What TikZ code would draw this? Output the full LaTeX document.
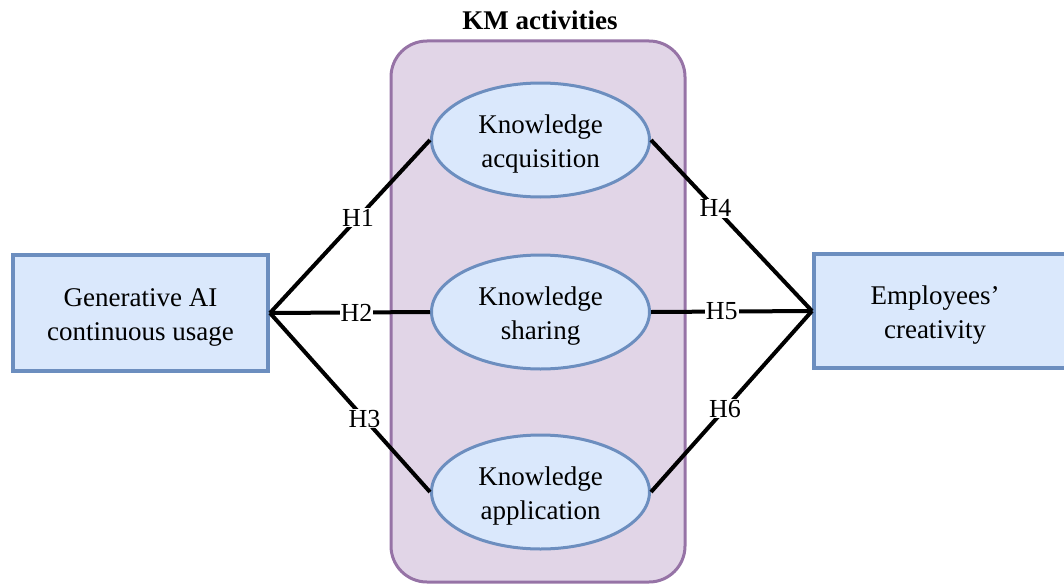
\documentclass[tikz,border=0pt]{standalone}
\usepackage{fontspec}
\setmainfont{Liberation Serif}
\usetikzlibrary{shapes.geometric}
\definecolor{bluefill}{HTML}{DAE8FC}
\definecolor{blueline}{HTML}{6C8EBF}
\definecolor{purplefill}{HTML}{E1D5E7}
\definecolor{purpleline}{HTML}{9673A6}
\newcommand{\lowtxt}{\rule{0pt}{27pt}}
\tikzset{
  varbox/.style={draw=blueline, fill=bluefill, line width=4pt, rectangle, align=center,
    font=\fontsize{27}{34}\selectfont, inner sep=0pt},
  kmell/.style={draw=blueline, fill=bluefill, line width=3pt, ellipse, align=center,
    minimum width=218pt, minimum height=114pt, inner sep=0pt,
    font=\fontsize{27}{34}\selectfont},
  link/.style={line width=4pt, black},
  hlab/.style={fill=white, inner sep=1pt, font=\fontsize{26}{30}\selectfont},
  kmgroup/.style={draw=purpleline, fill=purplefill, line width=3pt, rounded corners=36pt}
}
\begin{document}
\begin{tikzpicture}[x=1pt,y=-1pt]
\useasboundingbox (0,0) rectangle (1064,586);
\begin{scope}
\clip (0,0) rectangle (1064,586);
% group
\draw[kmgroup] (391,41) rectangle (685,582);
\node[font=\bfseries\fontsize{27}{30}\selectfont] (title) at (540,20) {KM activities};
% ellipses
\node[kmell] (acq) at (540.5,140) {\lowtxt Knowledge\\acquisition};
\node[kmell] (sha) at (540.5,312) {\lowtxt Knowledge\\sharing};
\node[kmell] (app) at (540.5,492) {\lowtxt Knowledge\\application};
% boxes
\node[varbox, minimum width=255pt, minimum height=116pt] (gen) at (140.5,313) {\lowtxt Generative AI\\continuous usage};
\node[varbox, minimum width=256pt, minimum height=114pt] (emp) at (942,311) {\lowtxt Employees’\hspace*{14pt}\\creativity\hspace*{14pt}};
% links
\draw[link] (gen.east) -- node[hlab, pos=0.55] (h1) {H1} (acq.west);
\draw[link] (gen.east) -- node[hlab, pos=0.54] (h2) {H2} (sha.west);
\draw[link] (gen.east) -- node[hlab, pos=0.59] (h3) {H3} (app.west);
\draw[link] (acq.east) -- node[hlab, pos=0.40] (h4) {H4} (emp.west);
\draw[link] (sha.east) -- node[hlab, pos=0.44] (h5) {H5} (emp.west);
\draw[link] (app.east) -- node[hlab, pos=0.46] (h6) {H6} (emp.west);
\end{scope}
\end{tikzpicture}
\end{document}
